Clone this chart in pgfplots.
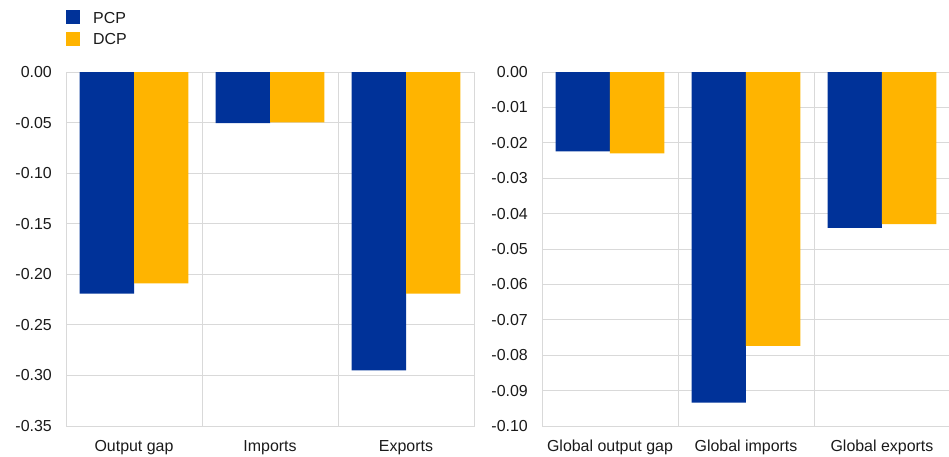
\documentclass[border=0pt]{standalone}
\usepackage{pgfplots}
\pgfplotsset{compat=1.18}
\usepackage{fontspec}
\setmainfont{Liberation Sans}
\definecolor{pcp}{HTML}{003299}
\definecolor{dcp}{HTML}{FFB400}
\definecolor{gridc}{HTML}{D9D9D9}
\definecolor{txt}{HTML}{1A1A1A}
\pgfplotsset{
  panel/.style={
    scale only axis, width=408bp, height=354bp,
    xmin=-0.5, xmax=2.5, ymax=0,
    xtick={0,1,2},
    minor xtick={0.5,1.5},
    xminorgrids, ymajorgrids,
    grid style={gridc, line width=0.75bp},
    minor grid style={gridc, line width=0.75bp},
    axis line style={gridc, line width=0.75bp},
    major tick length=0pt, minor tick length=0pt,
    tick style={draw=none},
    ticklabel style={font=\fontsize{16}{19}\selectfont, text=txt},
    xticklabel style={inner sep=0pt, anchor=north, yshift=-14bp},
    yticklabel style={inner sep=0pt, anchor=east, xshift=-14bp},
    bar width=0.4,
    clip=false,
  }
}
\begin{document}
\begin{tikzpicture}
\useasboundingbox (-66bp,72bp) rectangle (883bp,-385bp);
\begin{axis}[panel, at={(0,0)}, anchor=north west,
  ymin=-0.35,
  ytick={0,-0.05,-0.10,-0.15,-0.20,-0.25,-0.30,-0.35},
  yticklabels={0.00,-0.05,-0.10,-0.15,-0.20,-0.25,-0.30,-0.35},
  xticklabels={Output gap,Imports,Exports},
  legend style={at={(0,1)}, anchor=south west, yshift=24bp, draw=none, fill=none,
    font=\fontsize{16}{19}\selectfont, text=txt, inner sep=0pt,
    row sep=6bp, nodes={inner sep=0pt, text height=12bp, text depth=3bp}},
  legend cell align=left,
  legend image code/.code={\fill[#1] (0bp,-5.8bp) rectangle (14bp,8.2bp);},
  /tikz/every odd column/.style={column sep=13bp},
]
\addplot[ybar, bar shift=-0.2, fill=pcp, draw=none] coordinates {(0,-0.219) (1,-0.0505) (2,-0.295)};
\addplot[ybar, bar shift=0.2, fill=dcp, draw=none] coordinates {(0,-0.209) (1,-0.0497) (2,-0.219)};
\legend{PCP,DCP}
\end{axis}
\begin{axis}[panel, at={(476bp,0)}, anchor=north west, width=407bp,
  ymin=-0.10,
  ytick={0,-0.01,-0.02,-0.03,-0.04,-0.05,-0.06,-0.07,-0.08,-0.09,-0.10},
  yticklabels={0.00,-0.01,-0.02,-0.03,-0.04,-0.05,-0.06,-0.07,-0.08,-0.09,-0.10},
  xmax=2.493,
  xticklabels={Global output gap,Global imports,Global exports},
]
\addplot[ybar, bar shift=-0.2, fill=pcp, draw=none] coordinates {(0,-0.0224) (1,-0.0934) (2,-0.0440)};
\addplot[ybar, bar shift=0.2, fill=dcp, draw=none] coordinates {(0,-0.0230) (1,-0.0774) (2,-0.0430)};
\end{axis}
\end{tikzpicture}
\end{document}
